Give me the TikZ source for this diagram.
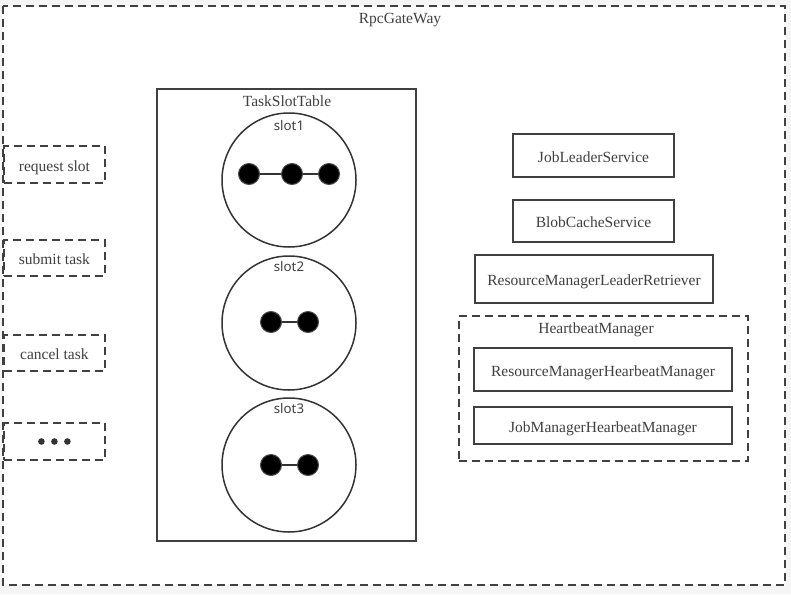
\documentclass[tikz,border=0pt]{standalone}
\usepackage{fontspec}
\setmainfont{Liberation Serif}
\newfontfamily\slotfont{Noto Sans}
\begin{document}
\begin{tikzpicture}[x=1pt,y=-1pt,
  dbox/.style={draw=black!75,line width=1.8pt,dash pattern=on 8pt off 5pt},
  sbox/.style={draw=black!75,line width=1.8pt},
  lbl/.style={font=\fontsize{15.5}{17}\selectfont,text=black!75,inner sep=0pt,text height=13pt,text depth=0pt},
  slotc/.style={circle,draw=black!80,line width=1.5pt,minimum size=134pt,inner sep=0pt},
  dotn/.style={circle,fill=black,draw=black!70,line width=1pt,minimum size=21pt,inner sep=0pt},
  slbl/.style={font=\slotfont\fontsize{13.3}{15}\selectfont,text=black!75,inner sep=0pt}]
\fill[black!4] (0,0) rectangle (791,594);
\useasboundingbox (0,0) rectangle (791,594);
\fill[white] (3,6) rectangle (785,585);
% outer
\draw[dbox] (3,6) rectangle (785,585);
\node[lbl] (rpc) at (400,17) {RpcGateWay};
% left boxes
\node[dbox,lbl,minimum width=101pt,minimum height=37pt,anchor=west] (req) at (3,164.5) {request slot};
\node[dbox,lbl,minimum width=101pt,minimum height=36pt,anchor=west] (sub) at (3,258) {submit task};
\node[dbox,lbl,minimum width=101pt,minimum height=36pt,anchor=west] (can) at (3,353) {cancel task};
\node[dbox,minimum width=101pt,minimum height=37pt,anchor=west,inner sep=0pt] (more) at (3,441.5) {};
\foreach \xx in {-13,0,13} \fill[black!80] ([xshift=\xx pt]more.center) circle (3.3pt);
% TaskSlotTable
\node[sbox,minimum width=259pt,minimum height=452pt,inner sep=0pt] (tst) at (286.5,315) {};
\node[lbl] (tstl) at (287,100) {TaskSlotTable};
% slots
\node[slotc] (s1) at (289,180) {};
\node[slbl] (s1l) at (289,126) {slot1};
\node[dotn] (a1) at (249,174) {};
\node[dotn] (a2) at (292,174) {};
\node[dotn] (a3) at (329,174) {};
\draw[black!80,line width=1.3pt] (a1) -- (a2) (a2) -- (a3);
\node[slotc] (s2) at (289,323) {};
\node[slbl] (s2l) at (289,267) {slot2};
\node[dotn] (b1) at (271,322) {};
\node[dotn] (b2) at (308,322) {};
\draw[black!80,line width=1.3pt] (b1) -- (b2);
\node[slotc] (s3) at (289,465) {};
\node[slbl] (s3l) at (289,409) {slot3};
\node[dotn] (c1) at (271,465) {};
\node[dotn] (c2) at (308,465) {};
\draw[black!80,line width=1.3pt] (c1) -- (c2);
% right
\node[sbox,lbl,minimum width=161pt,minimum height=43pt] (jls) at (593.5,155.5) {JobLeaderService};
\node[sbox,lbl,minimum width=161pt,minimum height=42pt] (bcs) at (593.5,221) {BlobCacheService};
\node[sbox,lbl,minimum width=238pt,minimum height=48pt] (rmlr) at (594,279) {ResourceManagerLeaderRetriever};
\node[dbox,minimum width=289pt,minimum height=145pt,inner sep=0pt] (hbm) at (603.5,388.5) {};
\node[lbl] (hbml) at (596,327) {HeartbeatManager};
\node[sbox,lbl,minimum width=258pt,minimum height=43pt] (rmhb) at (603,369.5) {ResourceManagerHearbeatManager};
\node[sbox,lbl,minimum width=258pt,minimum height=37pt] (jmhb) at (603,425.5) {JobManagerHearbeatManager};
\end{tikzpicture}
\end{document}
